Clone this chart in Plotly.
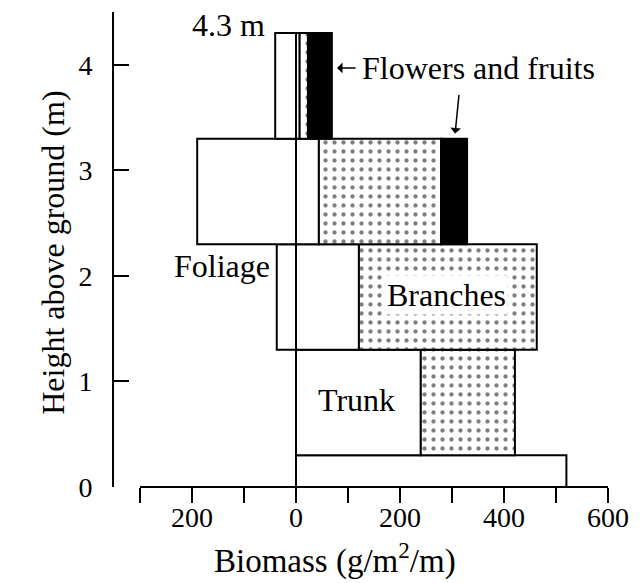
import plotly.graph_objects as go

# Vertical layers (m)
layer_bottom = [0.0, 0.3, 1.3, 2.3, 3.3]
layer_top = [0.3, 1.3, 2.3, 3.3, 4.3]

# Biomass per layer (g/m2/m)
foliage = [0, 0, 37, 190, 40]      # drawn to the left of 0
trunk = [520, 240, 121, 44, 7]
branches = [0, 181, 342, 235, 16]
flowers = [0, 0, 0, 50, 46]

xtick_vals = [-300, -200, -100, 0, 100, 200, 300, 400, 500, 600]
xtick_text = ["", "200", "", "0", "", "200", "", "400", "", "600"]
ytick_vals = [0, 1, 2, 3, 4]

FONT = "Liberation Serif"
centers = [(b + t) / 2 for b, t in zip(layer_bottom, layer_top)]
heights = [t - b for b, t in zip(layer_bottom, layer_top)]

fig = go.Figure()


def add_series(values, bases, name, color, pattern=None, sign=1):
    ys, xs, bs, ws = [], [], [], []
    for c, h, v, b in zip(centers, heights, values, bases):
        if v > 0:
            ys.append(c)
            xs.append(sign * v)
            bs.append(b)
            ws.append(h)
    marker = dict(color=color, line=dict(color="black", width=2))
    if pattern:
        marker["pattern"] = pattern
    fig.add_trace(go.Bar(y=ys, x=xs, base=bs, width=ws, orientation="h",
                         name=name, marker=marker, showlegend=False))


add_series(foliage, [0] * 5, "Foliage", "white", sign=-1)
add_series(trunk, [0] * 5, "Trunk", "white")
add_series(branches, trunk, "Branches", "white",
           pattern=dict(shape=".", bgcolor="white", fgcolor="black",
                        size=9, solidity=0.18, fillmode="overlay"))
add_series(flowers, [t + b for t, b in zip(trunk, branches)],
           "Flowers and fruits", "black")

fig.update_layout(
    width=635, height=575,
    margin=dict(l=106, r=35, t=4, b=96),
    paper_bgcolor="white", plot_bgcolor="white",
    barmode="overlay",
    font=dict(family=FONT, color="black", size=28),
    xaxis=dict(range=[-350, 600], tickvals=xtick_vals, ticktext=xtick_text,
               ticks="outside", ticklen=15, tickwidth=2, tickcolor="black",
               showgrid=False, zeroline=False, showline=False,
               ticklabelstandoff=-10,
               tickfont=dict(family=FONT, size=28)),
    yaxis=dict(range=[0, 4.5], tickvals=ytick_vals,
               ticks="inside", ticklen=15, tickwidth=2, tickcolor="black",
               showgrid=False, zeroline=False, showline=True,
               linecolor="black", linewidth=2, ticklabelstandoff=14,
               tickfont=dict(family=FONT, size=28)),
)

# x axis line (starts at -300)
fig.add_shape(type="line", xref="x", yref="paper", x0=-300, x1=600, y0=0, y1=0,
              line=dict(color="black", width=2))

ann_font = dict(family=FONT, size=32, color="black")
fig.add_annotation(text="4.3 m", x=-56, y=4.38, xref="x", yref="y",
                   xanchor="right", showarrow=False, font=ann_font)
fig.add_annotation(text="Flowers and fruits", x=123, y=3.97, xref="x", yref="y",
                   xanchor="left", showarrow=False, font=ann_font)
# small left arrow before "Flowers and fruits"
fig.add_annotation(x=79, y=3.97, xref="x", yref="y", ax=20, ay=0, text="",
                   showarrow=True, arrowhead=1, arrowwidth=1.5, arrowsize=1.2,
                   arrowcolor="black")
# arrow pointing down to flowers in 2.3-3.3 layer
fig.add_annotation(x=306, y=3.35, xref="x", yref="y", ax=4, ay=-40, text="",
                   showarrow=True, arrowhead=1, arrowwidth=1.5, arrowsize=1.2,
                   arrowcolor="black")
fig.add_annotation(text="Foliage", x=-142, y=2.09, xref="x", yref="y",
                   showarrow=False, font=ann_font)
fig.add_annotation(text="Branches", x=290, y=1.82, xref="x", yref="y",
                   showarrow=False, font=ann_font, bgcolor="white")
fig.add_annotation(text="Trunk", x=117, y=0.82, xref="x", yref="y",
                   showarrow=False, font=ann_font)

# axis titles
fig.add_annotation(text="Height above ground (m)", x=-0.164, y=0.493,
                   xref="paper", yref="paper", textangle=-90, showarrow=False,
                   font=dict(family=FONT, size=32, color="black"))
fig.add_annotation(text="Biomass (g/m<sup>2</sup>/m)", x=0.447, y=-0.2,
                   xref="paper", yref="paper", yanchor="bottom", showarrow=False,
                   font=dict(family=FONT, size=33, color="black"))

fig.write_html("out.html")
